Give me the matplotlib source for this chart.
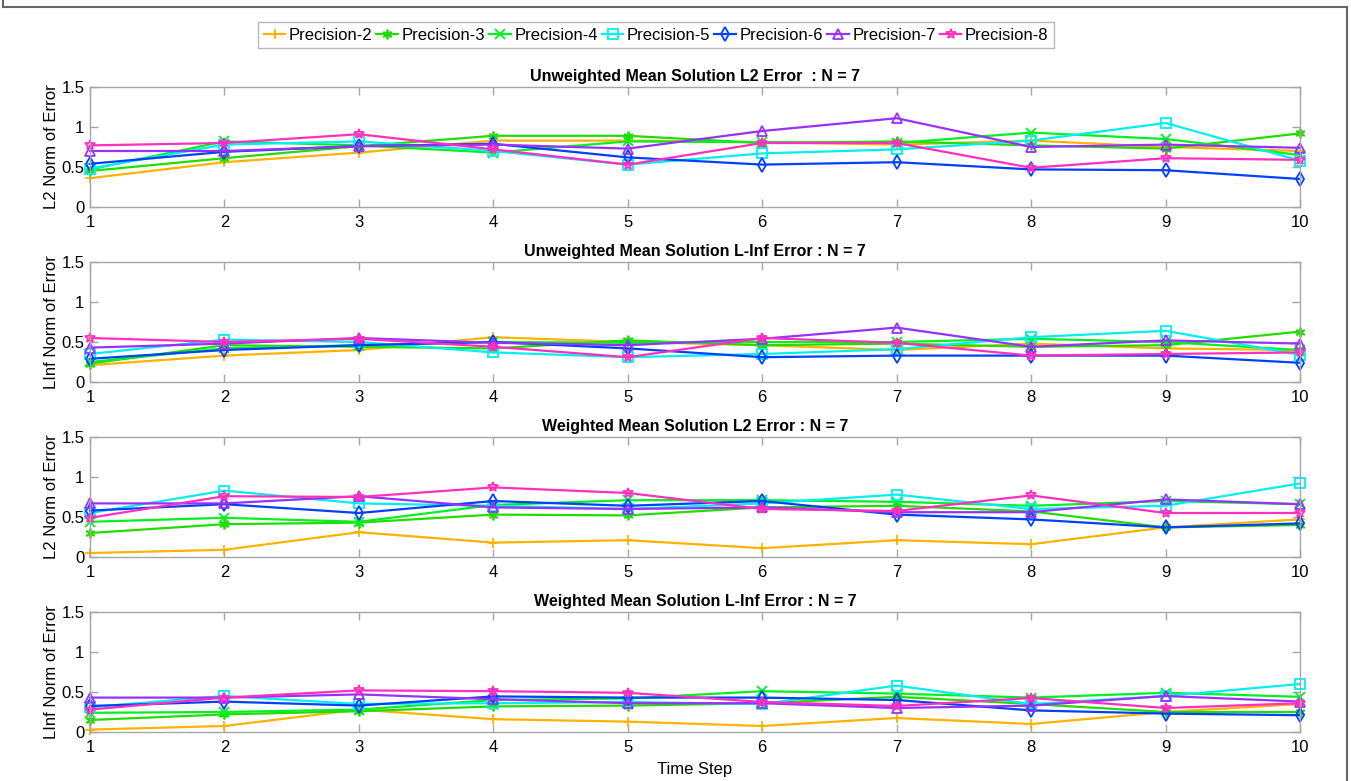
"""
Mean solution error per time step, for precisions 2 to 8
"""

import matplotlib
matplotlib.use('Agg')  # no display
import matplotlib.pyplot as plt
from matplotlib.lines import Line2D

plt.rcParams['font.family'] = ['Liberation Sans', 'DejaVu Sans']

time_steps = [1, 2, 3, 4, 5, 6, 7, 8, 9, 10]
series_names = ['Precision-2', 'Precision-3', 'Precision-4', 'Precision-5',
                'Precision-6', 'Precision-7', 'Precision-8']

# one row per precision (2 .. 8)
unweighted_l2 = [
    [0.36, 0.56, 0.68, 0.83, 0.83, 0.81, 0.78, 0.83, 0.75, 0.70],
    [0.45, 0.61, 0.76, 0.89, 0.89, 0.80, 0.82, 0.77, 0.73, 0.92],
    [0.47, 0.82, 0.77, 0.68, 0.82, 0.81, 0.80, 0.93, 0.85, 0.65],
    [0.48, 0.78, 0.82, 0.70, 0.53, 0.67, 0.72, 0.83, 1.05, 0.58],
    [0.54, 0.69, 0.76, 0.79, 0.62, 0.53, 0.56, 0.47, 0.46, 0.35],
    [0.70, 0.70, 0.76, 0.78, 0.73, 0.95, 1.11, 0.75, 0.78, 0.74],
    [0.77, 0.80, 0.91, 0.72, 0.53, 0.80, 0.80, 0.49, 0.61, 0.59],
]
unweighted_linf = [
    [0.21, 0.33, 0.40, 0.56, 0.50, 0.46, 0.40, 0.48, 0.42, 0.40],
    [0.23, 0.46, 0.44, 0.42, 0.52, 0.46, 0.48, 0.44, 0.46, 0.63],
    [0.25, 0.42, 0.46, 0.50, 0.49, 0.50, 0.50, 0.54, 0.50, 0.40],
    [0.35, 0.53, 0.50, 0.37, 0.31, 0.35, 0.41, 0.56, 0.64, 0.34],
    [0.29, 0.40, 0.46, 0.50, 0.42, 0.31, 0.33, 0.33, 0.33, 0.24],
    [0.43, 0.48, 0.55, 0.49, 0.46, 0.54, 0.68, 0.44, 0.52, 0.48],
    [0.55, 0.50, 0.54, 0.44, 0.31, 0.55, 0.49, 0.33, 0.35, 0.37],
]
weighted_l2 = [
    [0.05, 0.09, 0.31, 0.18, 0.21, 0.11, 0.21, 0.16, 0.37, 0.47],
    [0.30, 0.41, 0.43, 0.53, 0.52, 0.62, 0.64, 0.57, 0.37, 0.40],
    [0.44, 0.49, 0.44, 0.65, 0.71, 0.71, 0.69, 0.64, 0.70, 0.66],
    [0.55, 0.83, 0.67, 0.64, 0.60, 0.67, 0.78, 0.60, 0.64, 0.92],
    [0.58, 0.66, 0.55, 0.70, 0.64, 0.70, 0.53, 0.47, 0.37, 0.42],
    [0.67, 0.67, 0.76, 0.62, 0.60, 0.62, 0.56, 0.56, 0.72, 0.66],
    [0.49, 0.76, 0.75, 0.87, 0.80, 0.60, 0.575, 0.77, 0.55, 0.55],
]
weighted_linf = [
    [0.03, 0.075, 0.28, 0.16, 0.13, 0.075, 0.175, 0.10, 0.25, 0.35],
    [0.15, 0.22, 0.26, 0.32, 0.33, 0.36, 0.44, 0.35, 0.25, 0.25],
    [0.24, 0.25, 0.28, 0.40, 0.42, 0.51, 0.48, 0.43, 0.49, 0.44],
    [0.31, 0.45, 0.35, 0.36, 0.375, 0.35, 0.58, 0.35, 0.45, 0.60],
    [0.325, 0.38, 0.33, 0.445, 0.43, 0.43, 0.40, 0.27, 0.23, 0.21],
    [0.43, 0.43, 0.47, 0.41, 0.36, 0.36, 0.30, 0.33, 0.45, 0.38],
    [0.28, 0.43, 0.52, 0.51, 0.49, 0.375, 0.325, 0.425, 0.30, 0.36],
]

panel_titles = ['Unweighted Mean Solution L2 Error  : N = 7',
                'Unweighted Mean Solution L-Inf Error : N = 7',
                'Weighted Mean Solution L2 Error : N = 7',
                'Weighted Mean Solution L-Inf Error : N = 7']
panel_ylabels = ['L2 Norm of Error', 'LInf Norm of Error',
                 'L2 Norm of Error', 'LInf Norm of Error']
y_ticks = [0, 0.5, 1, 1.5]
y_ticklabels = ['0', '0.5', '1', '1.5']

colors = ['#FFB300', '#22DD00', '#00F020', '#00F0F0', '#0040FF', '#9A30FF', '#FF2FC0']
markers = ['+', (6, 2, 0), 'x', 's', 'd', '^', '*']

W, H = 1351, 781
fig = plt.figure(figsize=(W / 100, H / 100), dpi=100)

# figure frame (left, top, right)
for xs, ys in [([3, 3], [0, 7]), ([3, 1347], [7, 7]), ([1347, 1347], [7, 781])]:
    fig.add_artist(Line2D([x / W for x in xs], [1 - y / H for y in ys],
                          color='#666666', lw=1.5))

axes_tops = [87, 262, 437, 612]
ax_left, ax_right, ax_height = 90, 1300, 120
box_color = '#A6A6A6'

panels = [unweighted_l2, unweighted_linf, weighted_l2, weighted_linf]
handles = []
for i, data in enumerate(panels):
    top = axes_tops[i]
    ax = fig.add_axes([ax_left / W, 1 - (top + ax_height) / H,
                       (ax_right - ax_left) / W, ax_height / H])
    for j, values in enumerate(data):
        line, = ax.plot(time_steps, values, color=colors[j], marker=markers[j],
                        markersize=7, markerfacecolor='none', markeredgewidth=1.3,
                        linewidth=1.6, label=series_names[j], clip_on=False)
        if i == 0:
            handles.append(line)
    ax.set_xlim(1, 10)
    ax.set_ylim(0, 1.5)
    ax.set_xticks(time_steps)
    ax.set_yticks(y_ticks)
    ax.set_yticklabels(y_ticklabels)
    ax.tick_params(direction='in', top=True, right=True, length=6, width=1,
                   color=box_color, labelsize=12, pad=4)
    ax.tick_params(axis='x', pad=6)
    for spine in ax.spines.values():
        spine.set_color(box_color)
        spine.set_linewidth(1)
    ax.set_title(panel_titles[i], fontsize=11.5, fontweight='bold', pad=4)
    ax.set_ylabel(panel_ylabels[i], fontsize=12, labelpad=2)

ax.set_xlabel('Time Step', fontsize=12, labelpad=5)

leg = fig.legend(handles=handles, loc='center', bbox_to_anchor=(656 / W, 1 - 35 / H),
                 ncol=7, fontsize=12, frameon=True, fancybox=False,
                 handlelength=1.3, handletextpad=0.2, columnspacing=0.25,
                 borderpad=0.35, borderaxespad=0)
leg.get_frame().set_edgecolor('#A6A6A6')
leg.get_frame().set_linewidth(1)

plt.savefig('out.png', dpi=100)
plt.close()
